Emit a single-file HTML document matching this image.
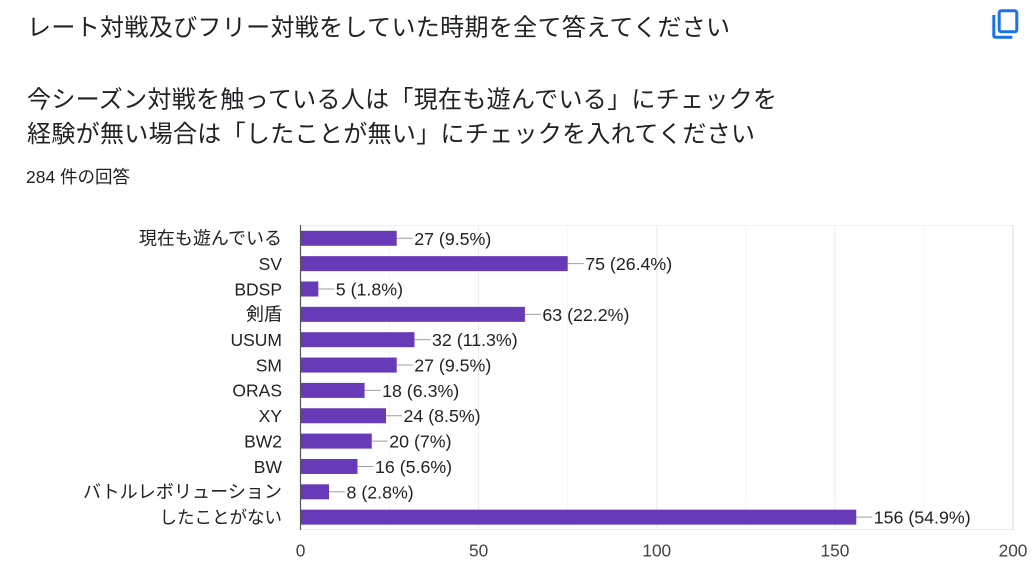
<!DOCTYPE html>
<html>
<head>
<meta charset="utf-8">
<style>
  html,body{margin:0;padding:0;background:#fff;}
  body{width:1032px;height:566px;overflow:hidden;}
  svg{display:block;}
  .jp{font-family:"Liberation Sans","Noto Sans CJK JP",sans-serif;}
</style>
</head>
<body>
<svg width="1032" height="566" viewBox="0 0 1032 566" xmlns="http://www.w3.org/2000/svg" class="jp">
  <!-- Header text -->
  <g fill="#202124" font-family="'Liberation Sans','Noto Sans CJK JP',sans-serif" font-size="24">
    <text x="27" y="35.5" textLength="703" lengthAdjust="spacing">レート対戦及びフリー対戦をしていた時期を全て答えてください</text>
    <text x="27" y="107.5" textLength="750" lengthAdjust="spacing">今シーズン対戦を触っている人は「現在も遊んでいる」にチェックを</text>
    <text x="27" y="142" textLength="728" lengthAdjust="spacing">経験が無い場合は「したことが無い」にチェックを入れてください</text>
  </g>
  <text x="26" y="183" font-size="17.5" fill="#202124" font-family="'Liberation Sans','Noto Sans CJK JP',sans-serif">284 件の回答</text>

  <!-- Copy icon -->
  <g fill="none" stroke="#1a73e8" stroke-width="3">
    <rect x="999.2" y="10.8" width="17.6" height="21" rx="2"/>
    <path d="M993.8 15 V35.5 Q993.8 37.2 995.5 37.2 H1012.3"/>
  </g>

  <!-- Gridlines -->
  <g stroke-width="1">
    <line x1="389.6" y1="225" x2="389.6" y2="530" stroke="#f5f5f5"/>
    <line x1="567.7" y1="225" x2="567.7" y2="530" stroke="#f5f5f5"/>
    <line x1="745.8" y1="225" x2="745.8" y2="530" stroke="#f5f5f5"/>
    <line x1="923.9" y1="225" x2="923.9" y2="530" stroke="#f5f5f5"/>
    <line x1="478.6" y1="225" x2="478.6" y2="530" stroke="#ebebeb"/>
    <line x1="656.75" y1="225" x2="656.75" y2="530" stroke="#ebebeb"/>
    <line x1="834.9" y1="225" x2="834.9" y2="530" stroke="#ebebeb"/>
    <line x1="1013" y1="225" x2="1013" y2="530" stroke="#e6e6e6" stroke-width="1.5"/>
    <line x1="300" y1="225.5" x2="1013" y2="225.5" stroke="#f0f0f0"/>
    <line x1="300" y1="529.5" x2="1013" y2="529.5" stroke="#ebebeb"/>
  </g>

  <!-- Bars -->
  <g fill="#673ab7">
    <rect x="301" y="230.8" width="95.7" height="15"/>
    <rect x="301" y="256.15" width="266.7" height="15"/>
    <rect x="301" y="281.5" width="17.3" height="15"/>
    <rect x="301" y="306.85" width="223.9" height="15"/>
    <rect x="301" y="332.2" width="113.5" height="15"/>
    <rect x="301" y="357.55" width="95.7" height="15"/>
    <rect x="301" y="382.9" width="63.6" height="15"/>
    <rect x="301" y="408.25" width="85" height="15"/>
    <rect x="301" y="433.6" width="70.75" height="15"/>
    <rect x="301" y="458.95" width="56.5" height="15"/>
    <rect x="301" y="484.3" width="28" height="15"/>
    <rect x="301" y="509.65" width="555.25" height="15"/>
  </g>

  <!-- Axis line -->
  <line x1="300.5" y1="225" x2="300.5" y2="530" stroke="#555" stroke-width="1.2"/>

  <!-- Connectors -->
  <g stroke="#9e9e9e" stroke-width="1">
    <line x1="396.7" y1="238.3" x2="412.7" y2="238.3"/>
    <line x1="567.7" y1="263.65" x2="583.7" y2="263.65"/>
    <line x1="318.3" y1="289" x2="334.3" y2="289"/>
    <line x1="524.9" y1="314.35" x2="540.9" y2="314.35"/>
    <line x1="414.5" y1="339.7" x2="430.5" y2="339.7"/>
    <line x1="396.7" y1="365.05" x2="412.7" y2="365.05"/>
    <line x1="364.6" y1="390.4" x2="380.6" y2="390.4"/>
    <line x1="386" y1="415.75" x2="402" y2="415.75"/>
    <line x1="371.75" y1="441.1" x2="387.75" y2="441.1"/>
    <line x1="357.5" y1="466.45" x2="373.5" y2="466.45"/>
    <line x1="329" y1="491.8" x2="345" y2="491.8"/>
    <line x1="856.25" y1="517.15" x2="872.25" y2="517.15"/>
  </g>

  <!-- Value labels -->
  <g fill="#222" font-size="17.8" font-family="'Liberation Sans',sans-serif">
    <text x="414.2" y="244.8">27 (9.5%)</text>
    <text x="585.2" y="270.1">75 (26.4%)</text>
    <text x="335.8" y="295.5">5 (1.8%)</text>
    <text x="542.4" y="320.8">63 (22.2%)</text>
    <text x="432" y="346.2">32 (11.3%)</text>
    <text x="414.2" y="371.5">27 (9.5%)</text>
    <text x="382.1" y="396.9">18 (6.3%)</text>
    <text x="403.5" y="422.2">24 (8.5%)</text>
    <text x="389.25" y="447.6">20 (7%)</text>
    <text x="375" y="472.9">16 (5.6%)</text>
    <text x="346.5" y="498.3">8 (2.8%)</text>
    <text x="873.75" y="523.6">156 (54.9%)</text>
  </g>

  <!-- Category labels -->
  <g fill="#222" text-anchor="end" font-family="'Liberation Sans','Noto Sans CJK JP',sans-serif">
    <text x="282" y="244.6" font-size="18">現在も遊んでいる</text>
    <text x="282" y="270" font-size="17.5">SV</text>
    <text x="282" y="295.3" font-size="17.5">BDSP</text>
    <text x="282" y="320.7" font-size="18">剣盾</text>
    <text x="282" y="346" font-size="17.5">USUM</text>
    <text x="282" y="371.4" font-size="17.5">SM</text>
    <text x="282" y="396.7" font-size="17.5">ORAS</text>
    <text x="282" y="422.1" font-size="17.5">XY</text>
    <text x="282" y="447.4" font-size="17.5">BW2</text>
    <text x="282" y="472.8" font-size="17.5">BW</text>
    <text x="282" y="498.1" font-size="18" textLength="199" lengthAdjust="spacing">バトルレボリューション</text>
    <text x="282" y="523.5" font-size="17.5">したことがない</text>
  </g>

  <!-- X tick labels -->
  <g fill="#444" font-size="17.3" text-anchor="middle" font-family="'Liberation Sans',sans-serif">
    <text x="300.5" y="556.5">0</text>
    <text x="478.6" y="556.5">50</text>
    <text x="656.75" y="556.5">100</text>
    <text x="834.9" y="556.5">150</text>
    <text x="1013" y="556.5">200</text>
  </g>
</svg>
</body>
</html>
